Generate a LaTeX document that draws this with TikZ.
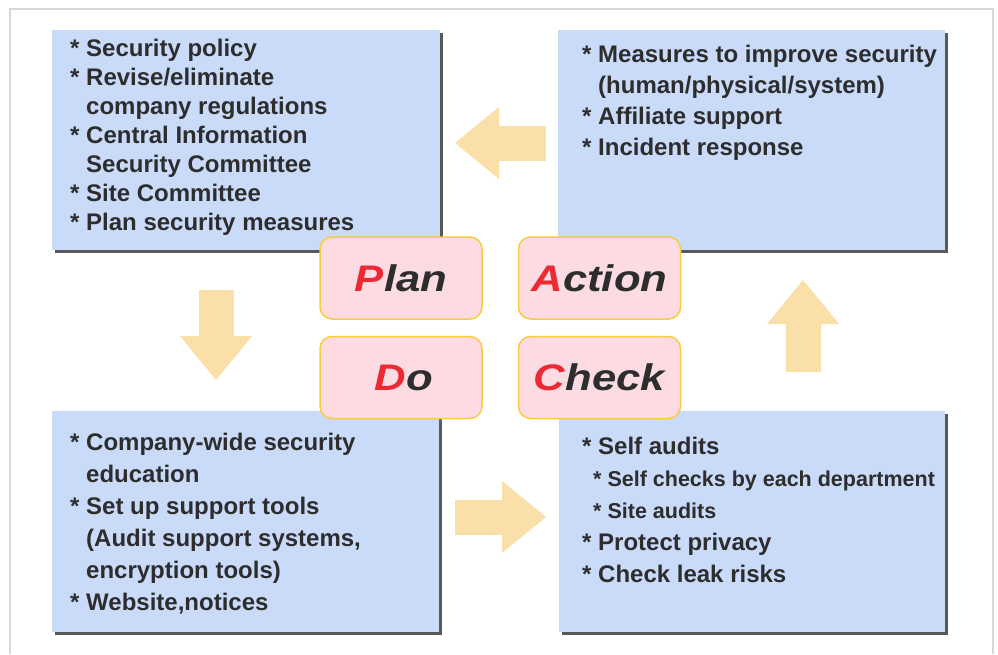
\documentclass[tikz,border=0pt]{standalone}
\usepackage{fontspec}
\setmainfont{Liberation Sans}
\newfontfamily\pdcafont[FakeStretch=1.18]{Liberation Sans}
\usetikzlibrary{positioning}
\usetikzlibrary{shadows,arrows.meta}
\definecolor{boxblue}{RGB}{202,219,249}
\definecolor{lblpink}{RGB}{253,219,227}
\definecolor{lblgold}{RGB}{248,205,60}
\definecolor{arrowc}{RGB}{251,223,169}
\definecolor{txtgray}{RGB}{45,45,45}
\definecolor{pdcared}{RGB}{236,42,52}
\definecolor{framegray}{RGB}{216,216,210}
\newcommand{\itemind}{\hphantom{*\ }}

\begin{document}
\begin{tikzpicture}[x=1pt,y=-1pt,
 bluebox/.style={fill=boxblue,anchor=north west,inner sep=0pt,
   drop shadow={shadow xshift=2.5pt,shadow yshift=-2.5pt,fill=black!65,opacity=1}},
 itemtxt/.style={anchor=north west,inner sep=0pt,align=left,text=txtgray,
   font=\bfseries\fontsize{24}{#1}\selectfont},
 pdcalbl/.style={fill=lblpink,draw=lblgold,line width=1.5pt,rounded corners=12pt,
   minimum width=162pt,minimum height=82pt,text=txtgray,
   font=\pdcafont\bfseries\itshape\fontsize{37}{37}\selectfont},
 fatarrow/.style={draw=arrowc,line width=35pt,
   -{Triangle[length=44pt,width=72pt,line width=0pt]}}]
 \useasboundingbox (0,0) rectangle (998,654);
 \draw[framegray,line width=1.5pt] (10,654)--(10,9)--(993,9)--(993,654);

 \coordinate (actout) at (546,143);
 \coordinate (planin) at (455,143);
 \coordinate (planout) at (216,290);
 \coordinate (doin) at (216,380);
 \coordinate (doout) at (455,517);
 \coordinate (checkin) at (546,517);
 \coordinate (checkout) at (803,372);
 \coordinate (actin) at (803,280);
 \draw[fatarrow] (actout)--(planin);
 \draw[fatarrow] (planout)--(doin);
 \draw[fatarrow] (doout)--(checkin);
 \draw[fatarrow] (checkout)--(actin);

 \node[bluebox,minimum width=388pt,minimum height=220pt] (plan) at (52,30) {};
 \node[bluebox,minimum width=387pt,minimum height=220pt] (action) at (558,30) {};
 \node[bluebox,minimum width=387pt,minimum height=221pt] (do) at (52,411) {};
 \node[bluebox,minimum width=386pt,minimum height=221pt] (check) at (559,411) {};

 \node[itemtxt=29] (plantxt) at (70,39) {* Security policy\\
   * Revise/eliminate\\ \itemind company regulations\\
   * Central Information\\ \itemind Security Committee\\
   * Site Committee\\ * Plan security measures};
 \node[itemtxt=31] (actiontxt) at (582,45) {* Measures to improve security\\
   \itemind(human/physical/system)\\ * Affiliate support\\ * Incident response};
 \node[itemtxt=32] (dotxt) at (70,433) {* Company-wide security\\
   \itemind education\\ * Set up support tools\\
   \itemind(Audit support systems,\\ \itemind encryption tools)\\
   * Website,notices};
 \node[itemtxt=32] (checktxt) at (582,437) {* Self audits\\
   \hspace*{11pt}{\fontsize{21.5}{32}\selectfont * Self checks by each department}\\
   \hspace*{11pt}{\fontsize{21.5}{32}\selectfont * Site audits}\\
   * Protect privacy\\ * Check leak risks};

 \node[pdcalbl] (planlbl) at (401,278) {\textcolor{pdcared}{P}lan};
 \node[pdcalbl] (actionlbl) at (599.5,278) {\textcolor{pdcared}{A}ction};
 \node[pdcalbl] (dolbl) at (401,377.5) {\hspace*{6pt}\textcolor{pdcared}{D}o};
 \node[pdcalbl] (checklbl) at (599.5,377.5) {\textcolor{pdcared}{C}heck};
\end{tikzpicture}
\end{document}
